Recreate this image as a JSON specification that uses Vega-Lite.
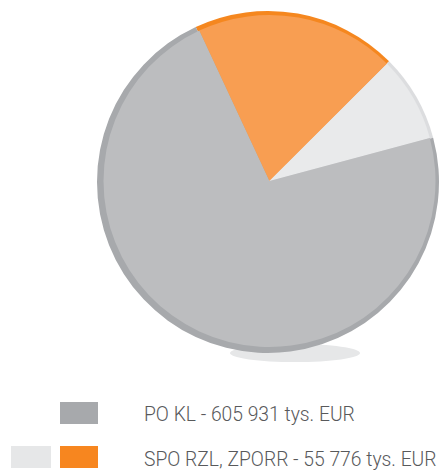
{
  "$schema": "https://vega.github.io/schema/vega-lite/v6.json",
  "width": 344,
  "height": 344,
  "autosize": {"type": "none"},
  "padding": {"left": 96, "top": 10, "right": 3, "bottom": 118},
  "background": "white",
  "config": {"view": {"stroke": null}},
  "datasets": {
    "slices": [
      {"name": "SPO RZL", "v": 163300, "ord": 1, "fill": "#f89e52", "rim": "#f5871f"},
      {"name": "ZPORR", "v": 69700, "ord": 2, "fill": "#e9eaeb", "rim": "#dcdddf"},
      {"name": "PO KL", "v": 605931, "ord": 3, "fill": "#bcbdbf", "rim": "#a7a9ac"}
    ],
    "shadow": [{"sx": 199, "sy": 343}],
    "swatches": [
      {"x1": -36, "x2": 2, "y1": 392, "y2": 414, "c": "#a7a9ac"},
      {"x1": -85, "x2": -45, "y1": 436, "y2": 458, "c": "#e6e7e8"},
      {"x1": -36, "x2": 2, "y1": 436, "y2": 458, "c": "#f7861f"}
    ],
    "labels": [
      {"tx": 48, "ty": 411.3, "t": "PO KL - 605 931 tys. EUR"},
      {"tx": 48, "ty": 456, "t": "SPO RZL, ZPORR - 55 776 tys. EUR"}
    ]
  },
  "layer": [
    {
      "data": {"name": "shadow"},
      "mark": {"type": "point", "filled": true, "shape": "M -1 0 A 1 0.14 0 1 0 1 0 A 1 0.14 0 1 0 -1 0 Z", "size": 16900, "color": "#e6e7e8", "opacity": 1, "strokeWidth": 0},
      "encoding": {
        "x": {"field": "sx", "type": "quantitative", "scale": {"domain": [0, 344], "nice": false, "zero": false}, "axis": null},
        "y": {"field": "sy", "type": "quantitative", "scale": {"domain": [0, 344], "range": [0, 344], "nice": false, "zero": false}, "axis": null}
      }
    },
    {
      "data": {"name": "slices"},
      "mark": {"type": "arc", "outerRadius": 171, "strokeWidth": 0},
      "encoding": {
        "theta": {"field": "v", "type": "quantitative", "stack": true, "scale": {"range": [-0.4363, 5.8469]}},
        "order": {"field": "ord", "type": "quantitative"},
        "color": {"field": "rim", "type": "nominal", "scale": null}
      }
    },
    {
      "data": {"name": "slices"},
      "mark": {"type": "arc", "outerRadius": 166, "xOffset": 1.5, "yOffset": -1, "strokeWidth": 0},
      "encoding": {
        "theta": {"field": "v", "type": "quantitative", "stack": true, "scale": {"range": [-0.4363, 5.8469]}},
        "order": {"field": "ord", "type": "quantitative"},
        "color": {"field": "fill", "type": "nominal", "scale": null}
      }
    },
    {
      "data": {"name": "swatches"},
      "mark": {"type": "rect"},
      "encoding": {
        "x": {"field": "x1", "type": "quantitative"},
        "x2": {"field": "x2"},
        "y": {"field": "y1", "type": "quantitative"},
        "y2": {"field": "y2"},
        "color": {"field": "c", "type": "nominal", "scale": null}
      }
    },
    {
      "data": {"name": "labels"},
      "mark": {"type": "text", "align": "left", "baseline": "alphabetic", "font": "Roboto", "fontWeight": 300, "fontSize": 19.3, "color": "#58595b"},
      "encoding": {
        "x": {"field": "tx", "type": "quantitative"},
        "y": {"field": "ty", "type": "quantitative"},
        "text": {"field": "t"}
      }
    }
  ]
}
